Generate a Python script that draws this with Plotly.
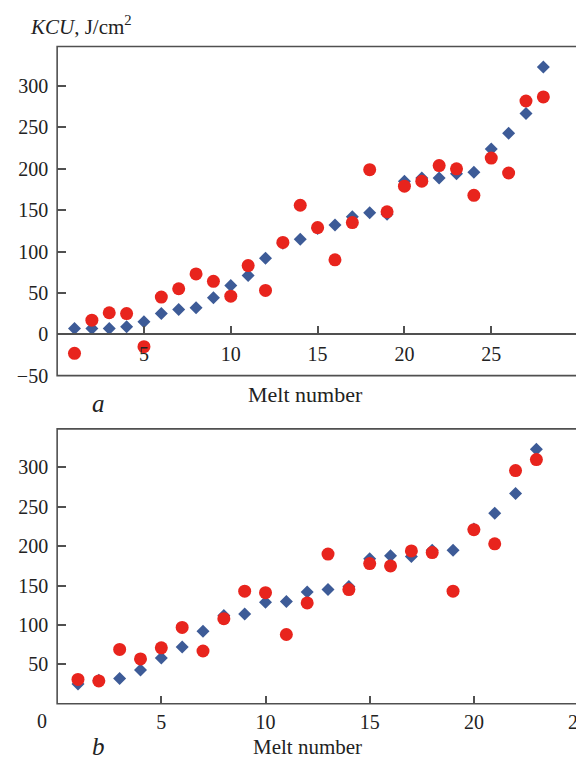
import plotly.graph_objects as go

# ---- data: panel a ----
melt_a = list(range(1, 29))
blue_a = [7, 7, 7, 9, 15, 25, 30, 32, 44, 59, 71, 92, 110, 115, 128, 132, 142, 147, 145, 185,
          189, 189, 194, 196, 224, 243, 267, 323]
red_a = [-23, 17, 26, 25, -15, 45, 55, 73, 64, 46, 83, 53, 111, 156, 129, 90, 135, 199, 148, 179,
         185, 204, 200, 168, 213, 195, 282, 287]

# ---- data: panel b ----
melt_b = list(range(1, 24))
blue_b = [25, 30, 32, 43, 58, 72, 92, 112, 114, 129, 130, 142, 145, 149, 184, 188, 187, 195,
          195, 222, 242, 267, 323]
red_b = [31, 29, 69, 57, 71, 97, 67, 108, 143, 141, 88, 128, 190, 145, 178, 175, 194, 192,
         143, 221, 203, 296, 310]

xticks_a = [5, 10, 15, 20, 25]
yticks_a = [-50, 0, 50, 100, 150, 200, 250, 300]
xticks_b = [0, 5, 10, 15, 20, 25]
xticklabels_b = ["", "5", "10", "15", "20", "25"]
yticks_b = [50, 100, 150, 200, 250, 300]

W, H = 584, 762
BLUE = "#3d5b97"
RED = "#e8241d"
FRAME = "#505050"
FONT = "Liberation Serif"
TXT = "#222222"

xdom = [50 / W, 580 / W]
ydom_a = [1 - 373 / H, 1 - 39 / H]
ydom_b = [1 - 706 / H, 1 - 427 / H]
yr_a = [-50, 348]
yr_b = [0, 349]
zero_pos = ydom_a[0] + (0 - yr_a[0]) / (yr_a[1] - yr_a[0]) * (ydom_a[1] - ydom_a[0])

fig = go.Figure()
fig.add_trace(go.Scatter(x=melt_a, y=blue_a, mode="markers", xaxis="x", yaxis="y",
                         marker=dict(symbol="diamond", size=10, color=BLUE), showlegend=False))
fig.add_trace(go.Scatter(x=melt_a, y=red_a, mode="markers", xaxis="x", yaxis="y",
                         marker=dict(symbol="circle", size=13, color=RED), showlegend=False))
fig.add_trace(go.Scatter(x=melt_b, y=blue_b, mode="markers", xaxis="x2", yaxis="y2",
                         marker=dict(symbol="diamond", size=10, color=BLUE), showlegend=False))
fig.add_trace(go.Scatter(x=melt_b, y=red_b, mode="markers", xaxis="x2", yaxis="y2",
                         marker=dict(symbol="circle", size=13, color=RED), showlegend=False))

tickfont = dict(family=FONT, size=20, color=TXT)

fig.update_layout(
    width=W, height=H,
    margin=dict(l=0, r=0, t=0, b=0),
    paper_bgcolor="white", plot_bgcolor="white",
    font=dict(family=FONT, size=20, color=TXT),
    xaxis=dict(domain=xdom, range=[0, 30], anchor="free", position=zero_pos,
               tickvals=xticks_a, ticks="inside", ticklen=8, tickcolor=FRAME, tickwidth=1.5,
               showline=True, linecolor=FRAME, linewidth=1.5, showgrid=False, zeroline=False,
               tickfont=tickfont, ticklabelstandoff=2),
    yaxis=dict(domain=ydom_a, range=yr_a, anchor="x", tickvals=yticks_a,
               ticks="inside", ticklen=9, tickcolor=FRAME, tickwidth=1.5,
               showline=False, showgrid=False, zeroline=False, tickfont=tickfont,
               ticklabelstandoff=8),
    xaxis2=dict(domain=xdom, range=[0, 25], anchor="y2", tickvals=xticks_b,
                ticktext=xticklabels_b,
                ticks="inside", ticklen=8, tickcolor=FRAME, tickwidth=1.5,
                showline=False, showgrid=False, zeroline=False, tickfont=tickfont,
                ticklabelstandoff=4, ticklabeloverflow="allow"),
    yaxis2=dict(domain=ydom_b, range=yr_b, anchor="x2", tickvals=yticks_b,
                ticks="inside", ticklen=9, tickcolor=FRAME, tickwidth=1.5,
                showline=False, showgrid=False, zeroline=False, tickfont=tickfont,
                ticklabelstandoff=8),
)

# frames
fig.add_shape(type="rect", xref="x domain", yref="y domain", x0=0, x1=1, y0=0, y1=1,
              line=dict(color=FRAME, width=1.6), layer="above")
fig.add_shape(type="rect", xref="x2 domain", yref="y2 domain", x0=0, x1=1, y0=0, y1=1,
              line=dict(color=FRAME, width=1.6), layer="above")

ann_font = dict(family=FONT, size=21, color=TXT)
fig.add_annotation(text="<i>KCU</i>, J/cm<sup>2</sup>", xref="paper", yref="paper",
                   x=20 / W, y=1 - 18 / H, xanchor="left", yanchor="middle",
                   showarrow=False, font=ann_font)
# origin label of the lower panel (drawn left of the frame, as in the source)
fig.add_annotation(text="0", xref="paper", yref="paper",
                   x=35 / W, y=1 - 723 / H, xanchor="center", yanchor="middle",
                   showarrow=False, font=tickfont)
fig.add_annotation(text="Melt number", xref="paper", yref="paper",
                   x=303 / W, y=1 - 392 / H, xanchor="center", yanchor="middle",
                   showarrow=False, font=dict(family=FONT, size=22, color=TXT))
fig.add_annotation(text="Melt number", xref="paper", yref="paper",
                   x=305 / W, y=1 - 750 / H, xanchor="center", yanchor="middle",
                   showarrow=False, font=dict(family=FONT, size=21, color=TXT))
fig.add_annotation(text="<i>a</i>", xref="paper", yref="paper",
                   x=92 / W, y=1 - 401 / H, xanchor="center", yanchor="middle",
                   showarrow=False, font=dict(family=FONT, size=25, color=TXT))
fig.add_annotation(text="<i>b</i>", xref="paper", yref="paper",
                   x=92 / W, y=1 - 749 / H, xanchor="center", yanchor="middle",
                   showarrow=False, font=dict(family=FONT, size=25, color=TXT))

fig.write_html("out.html")
